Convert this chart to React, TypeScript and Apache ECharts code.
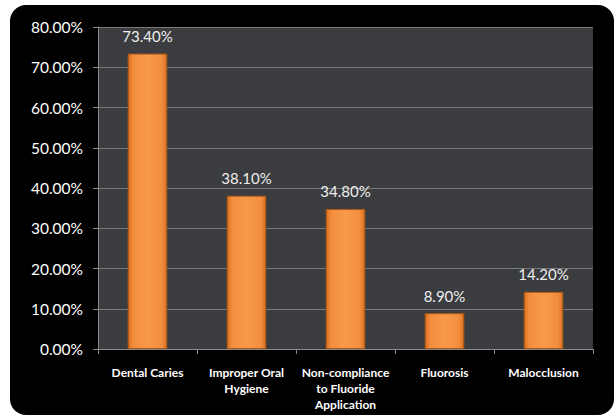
import React, { useEffect, useRef } from "react";
import * as echarts from "echarts";

const categories = [
  "Dental Caries",
  "Improper Oral\nHygiene",
  "Non-compliance\nto Fluoride\nApplication",
  "Fluorosis",
  "Malocclusion",
];
const values = [73.4, 38.1, 34.8, 8.9, 14.2];

export default function App() {
  const ref = useRef<HTMLDivElement>(null);
  useEffect(() => {
    if (!ref.current) return;
    const chart = echarts.init(ref.current, undefined, { renderer: "svg" });
    chart.setOption({
      animation: false,
      backgroundColor: "#ffffff",
      graphic: [
        {
          type: "rect",
          z: -10,
          silent: true,
          shape: { x: 10, y: 5, width: 604, height: 410, r: 16 },
          style: { fill: "#000000" },
        },
      ],
      grid: {
        left: 98,
        right: 23,
        top: 27,
        bottom: 70,
        show: true,
        backgroundColor: "#3a3c3f",
        borderWidth: 0,
      },
      xAxis: {
        type: "category",
        data: categories,
        axisLine: { show: true, lineStyle: { color: "#8a8a8a", width: 1 } },
        axisTick: { show: true, length: 5, lineStyle: { color: "#8a8a8a" } },
        axisLabel: {
          color: "#ffffff",
          fontFamily: "Lato",
          fontWeight: "bold",
          fontSize: 12,
          lineHeight: 16,
          margin: 15,
          interval: 0,
        },
      },
      yAxis: {
        type: "value",
        min: 0,
        max: 80,
        interval: 10,
        axisLine: { show: true, lineStyle: { color: "#8a8a8a" } },
        axisTick: { show: true, length: 5, lineStyle: { color: "#8a8a8a" } },
        splitLine: { show: true, lineStyle: { color: "#7a7a7a", width: 1 } },
        axisLabel: {
          color: "#ffffff",
          fontFamily: "Lato",
          fontSize: 15.5,
          margin: 15,
          formatter: (v: number) => v.toFixed(2) + "%",
        },
      },
      series: [
        {
          type: "bar",
          data: values,
          barWidth: "40%",
          itemStyle: {
            color: new echarts.graphic.LinearGradient(0, 0, 1, 0, [
              { offset: 0, color: "#d86f1f" },
              { offset: 0.12, color: "#f28d3e" },
              { offset: 0.5, color: "#f89a4b" },
              { offset: 0.88, color: "#f28d3e" },
              { offset: 1, color: "#d86f1f" },
            ]),
            borderColor: "#a95815",
            borderWidth: 1,
          },
          label: {
            show: true,
            position: "top",
            distance: 10,
            color: "#eeeeee",
            fontFamily: "Lato",
            fontSize: 15,
            formatter: (p: any) => p.value.toFixed(2) + "%",
          },
        },
      ],
    });
    return () => chart.dispose();
  }, []);
  return <div ref={ref} style={{ width: 616, height: 419, position: "absolute", left: 0, top: 0 }} />;
}
